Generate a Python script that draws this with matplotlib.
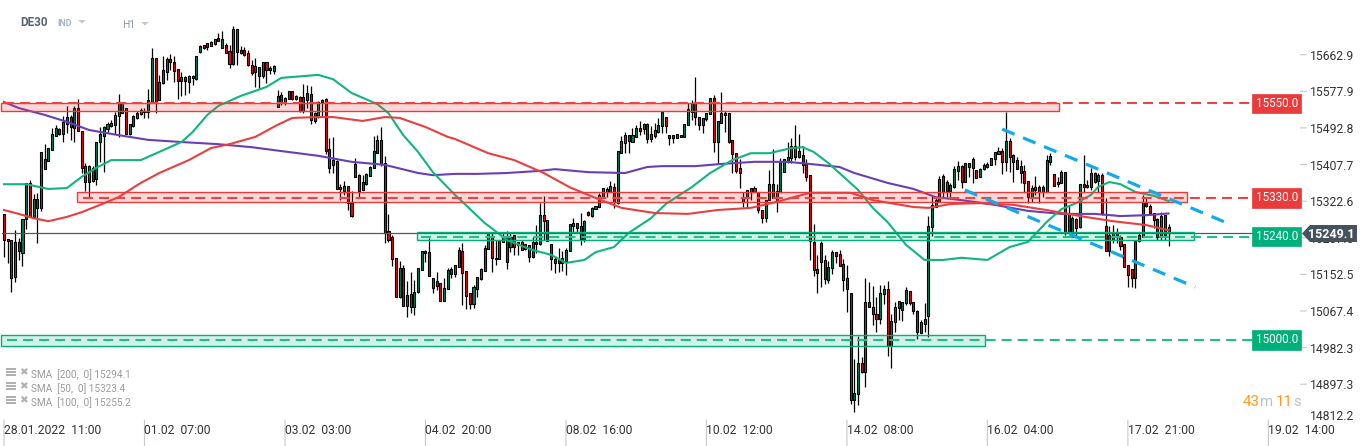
import matplotlib
matplotlib.use("Agg")
import matplotlib.pyplot as plt
import numpy as np
from matplotlib.patches import Rectangle, Polygon
from matplotlib.transforms import Affine2D

plt.rcParams['font.family'] = ['Roboto', 'DejaVu Sans']

# Hourly candles, one value per bar
opens = [15293,15235,15232,15146,15228,15202,15281,15365,15286,15328,
15307,15397,15416,15441,15474,15490,15479,15502,15518,15493,
15539,15486,15404,15367,15400,15374,15460,15474,15490,15497,
15500,15520,15527,15539,15479,15497,15516,15525,15530,15530,
15553,15655,15558,15597,15623,15653,15646,15630,15602,15611,
15599,15613,15606,15669,15685,15681,15683,15688,15702,15678,
15685,15671,15641,15723,15674,15674,15667,15639,15623,15634,
15613,15646,15632,15625,15541,15569,15553,15560,15579,15560,
15565,15532,15558,15572,15509,15520,15553,15560,15444,15407,
15416,15356,15346,15358,15318,15409,15383,15349,15362,15381,
15400,15434,15465,15411,15253,15239,15191,15100,15167,15079,
15107,15077,15112,15163,15207,15204,15121,15137,15132,15091,
15118,15165,15153,15170,15207,15160,15109,15084,15118,15142,
15160,15211,15242,15191,15188,15228,15242,15216,15244,15228,
15228,15211,15221,15193,15228,15223,15290,15279,15223,15188,
15186,15179,15184,15207,15265,15272,15265,15235,15297,15288,
15304,15309,15332,15344,15344,15356,15318,15434,15458,15476,
15460,15472,15493,15490,15502,15467,15474,15483,15497,15518,
15476,15476,15469,15472,15472,15500,15530,15551,15518,15500,
15514,15525,15562,15460,15504,15523,15527,15465,15434,15400,
15321,15332,15344,15353,15344,15302,15283,15325,15362,15323,
15344,15390,15416,15423,15425,15439,15430,15409,15383,15228,
15165,15225,15186,15139,15167,15204,15200,15177,15144,15109,
14861,14875,14947,14926,15088,15077,15060,15049,15107,15118,
14986,15042,15091,15070,15086,15114,15088,15067,15016,15037,
15056,15263,15309,15321,15381,15346,15346,15356,15393,15404,
15367,15411,15400,15395,15379,15397,15402,15407,15421,15432,
15439,15414,15462,15430,15418,15404,15393,15369,15332,15349,
15356,15356,15344,15414,15386,15367,15365,15390,15295,15239,
15281,15263,15362,15360,15356,15388,15369,15383,15265,15207,
15232,15239,15239,15223,15174,15165,15144,15230,15239,15318,
15311,15295,15281,15239,15290,15263]

highs = [15293,15235,15232,15256,15237,15281,15365,15372,15339,15342,
15437,15455,15446,15493,15500,15493,15520,15544,15523,15544,
15560,15486,15411,15407,15404,15460,15495,15497,15507,15511,
15530,15572,15551,15539,15502,15523,15532,15539,15539,15583,
15678,15655,15616,15660,15658,15665,15660,15630,15623,15613,
15616,15616,15660,15685,15685,15690,15695,15699,15713,15718,
15690,15685,15730,15723,15683,15681,15674,15651,15655,15634,
15646,15646,15637,15639,15581,15576,15565,15579,15579,15569,
15567,15595,15592,15590,15530,15555,15560,15562,15469,15472,
15418,15362,15369,15358,15346,15423,15386,15383,15388,15404,
15474,15476,15495,15428,15293,15244,15191,15184,15174,15137,
15158,15139,15167,15207,15209,15237,15144,15158,15132,15144,
15167,15170,15174,15216,15225,15160,15109,15128,15146,15167,
15221,15249,15249,15232,15232,15251,15253,15249,15244,15228,
15232,15223,15221,15239,15267,15318,15335,15279,15223,15193,
15214,15207,15214,15270,15283,15272,15295,15279,15300,15309,
15311,15342,15353,15356,15369,15365,15439,15474,15483,15476,
15493,15500,15509,15504,15504,15497,15504,15516,15530,15518,
15476,15476,15479,15476,15502,15551,15558,15611,15518,15516,
15527,15562,15569,15509,15576,15532,15527,15465,15434,15421,
15344,15349,15353,15358,15344,15302,15325,15395,15444,15362,
15423,15421,15460,15469,15500,15479,15451,15421,15383,15270,
15198,15230,15198,15184,15209,15204,15209,15188,15174,15109,
14956,15009,14961,15144,15135,15125,15100,15128,15128,15137,
15060,15088,15091,15088,15123,15114,15088,15070,15046,15086,
15288,15335,15330,15381,15386,15372,15365,15404,15416,15407,
15411,15411,15425,15395,15400,15411,15414,15423,15437,15448,
15446,15530,15469,15432,15425,15418,15407,15369,15360,15381,
15360,15360,15430,15434,15386,15379,15395,15390,15314,15288,
15283,15362,15430,15372,15400,15390,15388,15388,15330,15265,
15267,15260,15244,15223,15174,15165,15230,15249,15337,15330,
15316,15295,15283,15297,15290,15270]

lows = [15193,15179,15112,15135,15186,15172,15258,15286,15283,15225,
15300,15397,15416,15441,15474,15476,15460,15481,15465,15460,
15486,15388,15346,15332,15367,15360,15414,15390,15481,15495,
15479,15472,15527,15479,15476,15495,15514,15523,15516,15516,
15551,15527,15558,15595,15604,15627,15599,15560,15567,15569,
15574,15592,15604,15667,15676,15674,15683,15685,15695,15678,
15667,15632,15639,15639,15665,15660,15637,15616,15588,15586,
15609,15597,15618,15618,15541,15546,15546,15560,15558,15558,
15530,15527,15539,15502,15504,15516,15520,15432,15388,15388,
15351,15325,15337,15302,15286,15379,15330,15349,15360,15381,
15400,15434,15404,15225,15228,15172,15100,15098,15079,15053,
15063,15058,15109,15163,15181,15149,15109,15116,15091,15091,
15118,15144,15146,15170,15081,15072,15072,15074,15100,15139,
15160,15211,15158,15174,15188,15228,15165,15204,15197,15197,
15209,15209,15181,15191,15202,15221,15232,15230,15163,15156,
15158,15160,15151,15207,15251,15249,15221,15228,15288,15286,
15304,15309,15332,15332,15344,15307,15316,15434,15434,15434,
15460,15472,15476,15479,15458,15460,15469,15481,15481,15481,
15453,15458,15469,15472,15472,15500,15511,15500,15488,15481,
15509,15525,15437,15409,15504,15483,15458,15388,15388,15353,
15309,15307,15325,15344,15295,15272,15274,15325,15330,15297,
15344,15390,15411,15411,15418,15423,15388,15369,15186,15149,
15109,15123,15130,15132,15153,15179,15172,15114,15065,14851,
14833,14849,14923,14891,15077,15035,15019,15037,15084,14963,
14935,15019,15046,15044,15081,15081,15060,15002,15016,15019,
15007,15242,15309,15321,15332,15332,15332,15353,15372,15353,
15367,15379,15365,15376,15379,15395,15400,15407,15407,15432,
15386,15393,15390,15367,15397,15365,15344,15318,15321,15337,
15318,15332,15344,15407,15358,15356,15365,15244,15251,15239,
15239,15260,15344,15353,15349,15365,15344,15290,15207,15195,
15225,15225,15209,15170,15123,15123,15121,15228,15239,15309,
15293,15260,15232,15232,15232,15218]

closes = [15232,15229,15144,15228,15207,15281,15365,15286,15328,15307,
15437,15421,15446,15479,15493,15479,15507,15518,15495,15539,
15486,15400,15367,15404,15369,15460,15479,15495,15502,15504,
15523,15553,15551,15479,15502,15520,15527,15534,15532,15558,
15655,15553,15599,15627,15653,15646,15625,15602,15611,15602,
15613,15609,15660,15683,15678,15690,15692,15699,15695,15699,
15667,15641,15723,15669,15667,15662,15639,15620,15637,15613,
15646,15627,15627,15637,15567,15551,15562,15579,15560,15567,
15532,15565,15574,15511,15527,15553,15558,15439,15400,15418,
15351,15351,15358,15318,15288,15379,15346,15367,15386,15402,
15439,15465,15409,15249,15232,15188,15100,15167,15079,15105,
15077,15112,15167,15207,15202,15149,15144,15125,15091,15121,
15163,15153,15174,15209,15156,15102,15084,15123,15146,15165,
15214,15249,15191,15188,15232,15237,15181,15239,15216,15221,
15209,15223,15193,15228,15223,15290,15276,15230,15188,15179,
15179,15191,15209,15270,15272,15260,15235,15276,15290,15307,
15311,15337,15353,15351,15358,15321,15439,15462,15476,15462,
15476,15493,15486,15502,15467,15479,15488,15500,15530,15497,
15469,15469,15479,15476,15502,15537,15551,15518,15500,15516,
15527,15562,15460,15509,15527,15527,15460,15432,15393,15388,
15332,15349,15353,15344,15302,15283,15325,15362,15330,15346,
15414,15421,15425,15451,15451,15425,15407,15379,15230,15163,
15156,15181,15142,15170,15204,15195,15172,15139,15118,14861,
14877,14947,14926,15088,15077,15060,15049,15109,15118,14986,
15044,15077,15074,15088,15116,15086,15067,15019,15042,15049,
15265,15314,15325,15374,15344,15367,15360,15397,15404,15367,
15411,15402,15421,15376,15397,15407,15409,15423,15437,15439,
15414,15462,15425,15414,15397,15388,15365,15332,15353,15356,
15344,15344,15418,15428,15358,15362,15390,15251,15251,15283,
15260,15362,15356,15356,15388,15367,15383,15295,15207,15244,
15249,15249,15218,15170,15151,15144,15230,15244,15321,15311,
15295,15279,15239,15288,15244,15249]

# Moving averages, read at a handful of bars
sma50_bars = [0,6,12,17,21,25,29,37,42,48,51,55,58,64,71,75,85,89,94,101,104,108,112,116,122,124,130,134,136,
              143,148,152,157,160,165,169,175,179,186,191,197,202,207,213,216,219,223,231,235,239,244,249,254,
              259,266,272,277,282,286,290,294,296,299,302,306,311,315]
sma50_vals = [15362,15362,15351,15353,15379,15400,15418,15418,15437,15460,15483,15523,15544,15567,15588,15609,
              15616,15606,15574,15548,15527,15476,15437,15390,15337,15321,15272,15246,15232,15209,15198,15179,
              15186,15204,15216,15249,15283,15316,15355,15388,15418,15434,15434,15446,15448,15437,15411,15349,
              15307,15274,15221,15186,15186,15191,15186,15216,15228,15274,15304,15318,15337,15356,15367,15362,
              15344,15335,15323]
sma100_bars = [0,4,8,12,17,21,26,31,37,42,50,56,61,68,74,78,85,89,97,103,107,114,120,122,131,138,146,153,160,
               167,176,185,193,202,209,218,229,235,246,250,256,264,273,282,291,300,309,315]
sma100_vals = [15302,15293,15283,15276,15286,15297,15314,15332,15365,15388,15418,15446,15455,15472,15500,15516,
               15518,15518,15509,15518,15516,15495,15472,15467,15434,15418,15388,15355,15330,15307,15295,15293,
               15302,15307,15321,15342,15342,15325,15309,15307,15316,15318,15314,15302,15288,15276,15267,15255]
sma200_bars = [0,4,11,17,23,31,39,48,58,67,75,85,94,103,112,116,122,128,136,145,149,158,168,174,178,187,194,
               203,212,218,226,230,239,246,252,259,268,277,286,295,302,309,315]
sma200_vals = [15553,15539,15523,15507,15488,15476,15465,15460,15455,15448,15439,15428,15414,15407,15388,15383,
               15386,15386,15388,15393,15397,15390,15388,15402,15404,15404,15409,15414,15414,15409,15402,15388,
               15365,15351,15332,15325,15314,15300,15293,15293,15288,15290,15294]

# Support / resistance levels
level_vals = [15550, 15330, 15240, 15000]
level_texts = ['15550.0', '15330.0', '15240.0', '15000.0']
zone_tops = [15551.4, 15344, 15250, 15012]
zone_bottoms = [15531.4, 15320, 15231.6, 14985]
zone_starts = [-0.8, 19.7, 111.7, -0.8]
zone_ends = [285.3, 320.1, 321.9, 265.3]
level_starts = [0, 21.4, 112.8, 0.7]
level_end = 337.8

# Blue channel lines
trend_bars = [[270, 332.2], [259.9, 322.2]]
trend_vals = [[15490, 15267], [15348.5, 15123]]

last_price = 15249.1
last_text = '15249.1'
y_ticks = [15662.9, 15577.9, 15492.8, 15407.7, 15322.6, 15237.5, 15152.5, 15067.4, 14982.3, 14897.3]
y_tick_texts = ['15662.9', '15577.9', '15492.8', '15407.7', '15322.6', '15237.5', '15152.5', '15067.4', '14982.3', '14897.3']
x_ticks = [0, 38, 76, 114, 152, 190, 228, 266, 304, 342]
x_tick_texts = ['28.01.2022  11:00', '01.02  07:00', '03.02  03:00', '04.02  20:00', '08.02  16:00',
                '10.02  12:00', '14.02  08:00', '16.02  04:00', '17.02  21:00', '19.02  14:00']
legend_texts = ['SMA  [200,  0] 15294.1', 'SMA  [50,  0] 15323.4', 'SMA  [100,  0] 15255.2']

RED = '#e93b3b'
GREEN = '#00b07a'

fig = plt.figure(figsize=(13.68, 4.46), dpi=100, facecolor='white')
ax = fig.add_axes([0, 0, 1, 1])
ax.set_xlim(-1.082, 368.95)
ax.set_ylim(14753.7, 15790)
ax.axis('off')

# pixel positions for the chrome around the plot (origin top left)
px = Affine2D().scale(1, -1).translate(0, 446)

opens_a = np.array(opens)
closes_a = np.array(closes)
bars = np.arange(len(opens))
up = closes_a >= opens_a

# candles
ax.vlines(bars, lows, highs, color='black', lw=0.9, zorder=2)
ax.bar(bars[up], (closes_a - opens_a)[up], bottom=opens_a[up], width=0.55, color='#0b7a55',
       edgecolor='black', linewidth=0.8, zorder=3)
ax.bar(bars[~up], (opens_a - closes_a)[~up], bottom=closes_a[~up], width=0.55, color='#d80f0f',
       edgecolor='black', linewidth=0.8, zorder=3)

# moving averages
ax.plot(sma200_bars, sma200_vals, color='#6a3fb5', lw=1.5, zorder=4)
ax.plot(sma50_bars, sma50_vals, color='#10b57f', lw=1.5, zorder=4)
ax.plot(sma100_bars, sma100_vals, color='#e8403f', lw=1.5, zorder=4)

# current price line
ax.plot([-0.5, 350], [last_price, last_price], color='#4a5a66', lw=0.9, zorder=5)

# zones and levels
for i in range(4):
    col = RED if i < 2 else GREEN
    face = (0.93, 0.25, 0.25, 0.2) if i < 2 else (0.0, 0.69, 0.48, 0.17)
    ax.add_patch(Rectangle((zone_starts[i], zone_bottoms[i]), zone_ends[i] - zone_starts[i],
                           zone_tops[i] - zone_bottoms[i], facecolor=face, edgecolor=col, lw=1.0, zorder=6))
    line_col = '#ea4545' if i < 2 else '#1fbf8a'
    ax.plot([level_starts[i], level_end], [level_vals[i], level_vals[i]], color=line_col, lw=1.5,
            dashes=(4.8, 2.9), zorder=7)

# channel
for b, v in zip(trend_bars, trend_vals):
    ax.plot(b, v, color='#12aaeb', lw=2.3, dashes=(4.2, 2.9), zorder=8)

# level labels
for i in range(4):
    col = RED if i < 2 else GREEN
    ax.annotate(level_texts[i], (level_end, level_vals[i]), xytext=(24, 0), textcoords='offset pixels',
                color='white', fontsize=8.4, ha='center', va='center', zorder=11,
                bbox=dict(boxstyle='square,pad=0.28', fc=col, ec=col, lw=0.5))

# price axis
for v, t in zip(y_ticks, y_tick_texts):
    ax.annotate('', (337.8 + 12.85, v), xytext=(6, 0), textcoords='offset pixels',
                arrowprops=dict(arrowstyle='-', color='#c4c9cc', lw=0.8, shrinkA=0, shrinkB=0))
    ax.annotate(t, (337.8 + 13.3, v), xytext=(8, -1.5), textcoords='offset pixels', color='#333333',
                fontsize=8.7, ha='left', va='center', zorder=9)
fig.text(1310, 417, '14812.2', transform=px, color='#333333', fontsize=8.7, ha='left', va='center')

# price flag
ax.add_patch(Polygon([(1302, 233.5), (1310, 225), (1357, 225), (1357, 242), (1310, 242)], closed=True,
                     transform=px, facecolor='#46535e', edgecolor='none', zorder=12))
fig.text(1331, 234, last_text, transform=px, color='white', fontsize=9.0, fontweight='bold',
         ha='center', va='center', zorder=13)

# time axis
for b, t in zip(x_ticks, x_tick_texts):
    ax.annotate('', (b, 14753.7), xycoords='data', xytext=(0, 26), textcoords='offset pixels',
                arrowprops=dict(arrowstyle='-', color='#c4c9cc', lw=0.8, shrinkA=0, shrinkB=21))
    ax.annotate(t, (b, 14753.7), xytext=(0, 16), textcoords='offset pixels', color='#333333',
                fontsize=8.7, ha='left', va='center')

# header
fig.text(20, 23, 'DE30', transform=px, color='#5a6570', fontsize=8.4, fontweight='bold', va='center')
fig.text(57, 24, 'IND', transform=px, color='#a9b4c0', fontsize=6.4, fontweight='bold', va='center')
fig.text(122, 24.5, 'H1', transform=px, color='#8a96a0', fontsize=7.4, va='center')
for tx, ty in [(78, 20), (141, 22)]:
    ax.add_patch(Polygon([(tx, ty), (tx + 8, ty), (tx + 4, ty + 3.5)], closed=True, transform=px,
                         facecolor='#c8c8c8', edgecolor='none'))

# indicator legend
for n, t in enumerate(legend_texts):
    ly = 374.5 + 14 * n
    for dy in [-6, -3, 0]:
        ax.add_patch(Rectangle((6, ly + dy - 1), 10, 2, transform=px, facecolor='#b0b0b0', edgecolor='none'))
    fig.text(19.5, ly - 2.5, '\u2716', transform=px, color='#b0b0b0', fontsize=7.5, va='center', family='DejaVu Sans')
    fig.text(31, ly + 0.5, t, transform=px, color='#9a9a9a', fontsize=7.2, va='center')

# countdown
for tx, t, col in [(1243, '43', '#ff9a1f'), (1260, 'm', '#bcc3c8'), (1276, '11', '#ff9a1f'), (1293, 's', '#bcc3c8')]:
    fig.text(tx, 402, t, transform=px, color=col, fontsize=10.8, va='center')

fig.savefig('out.png', dpi=100)
